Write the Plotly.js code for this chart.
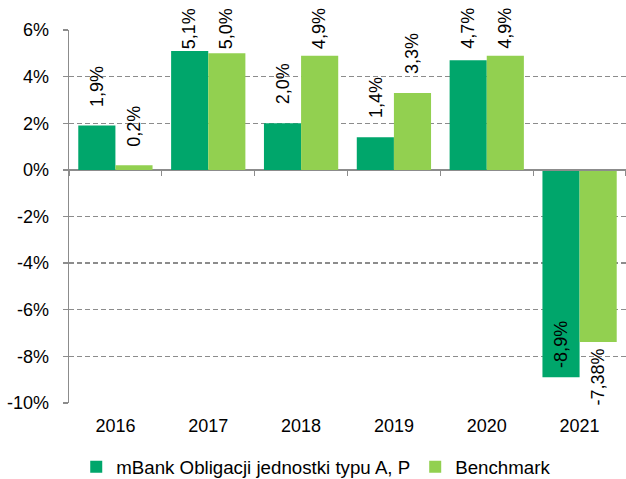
<!DOCTYPE html>
<html>
<head>
<meta charset="utf-8">
<script src="https://cdn.plot.ly/plotly-3.0.1.min.js"></script>
<style>html,body{margin:0;padding:0;overflow:hidden;background:#fff;}#chart{width:626px;height:479px;}</style>
</head>
<body>
<div id="chart"></div>
<script>
var years = ['2016', '2017', '2018', '2019', '2020', '2021'];
var fundName = 'mBank Obligacji jednostki typu A, P';
var benchName = 'Benchmark';
var fundValues = [1.9, 5.1, 2.0, 1.4, 4.7, -8.9];
var benchValues = [0.2, 5.0, 4.9, 3.3, 4.9, -7.38];
var yTickVals = [-10, -8, -6, -4, -2, 0, 2, 4, 6];
var yTickText = yTickVals.map(function (v) { return String(v) + '%'; });

var darkGreen = '#00A66B';
var lightGreen = '#92D050';
var axisGray = '#8C8C8C';
var fontFam = '"Liberation Sans", Arial, sans-serif';

function fmt(v) {
  var s = (Math.round(v * 10) === v * 10) ? v.toFixed(1) : v.toFixed(2);
  return s.replace('.', ',') + '%';
}

var boundaryTicks = [];
for (var k = 0; k <= years.length; k++) boundaryTicks.push(k - 0.5);

var traces = [
  {type: 'bar', name: fundName, x: years, y: fundValues, marker: {color: darkGreen}, hoverinfo: 'skip'},
  {type: 'bar', name: benchName, x: years, y: benchValues, marker: {color: lightGreen}, hoverinfo: 'skip'},
  // empty helper trace so that the category-boundary axis at 0% is drawn
  {type: 'scatter', mode: 'markers', x: [], y: [], xaxis: 'x2', yaxis: 'y', showlegend: false, hoverinfo: 'skip'}
];

var annotations = [];
function addLabels(vals, off, negInside) {
  vals.forEach(function (v, i) {
    var a = {x: i + off, xref: 'x', yref: 'y', text: fmt(v), showarrow: false, textangle: -90,
      font: {family: fontFam, size: 18, color: '#000'}, xanchor: 'center'};
    if (v >= 0) {
      a.y = Math.min(v + 0.73, 5.1); a.yanchor = 'bottom';
    } else if (negInside) {
      a.y = v; a.yanchor = 'bottom'; a.yshift = 7;
    } else {
      a.y = v; a.yanchor = 'top'; a.yshift = -5;
    }
    annotations.push(a);
  });
}
addLabels(fundValues, -0.2, true);
addLabels(benchValues, 0.2, false);

var layout = {
  width: 626, height: 479,
  margin: {l: 69, r: 0, t: 30, b: 76, autoexpand: false},
  paper_bgcolor: '#fff', plot_bgcolor: '#fff',
  barmode: 'group', bargap: 0.2, bargroupgap: 0,
  font: {family: fontFam, size: 18, color: '#000'},
  showlegend: true,
  legend: {orientation: 'h', x: 0.013, xanchor: 'left', yref: 'container', y: 0.025, yanchor: 'middle',
    font: {family: fontFam, size: 18.7, color: '#000'}, traceorder: 'normal'},
  xaxis: {type: 'category', showline: false, ticks: '', showgrid: false, zeroline: false,
    ticklabelstandoff: 10, tickfont: {size: 18, color: '#000'}, fixedrange: true, automargin: false},
  xaxis2: {overlaying: 'x', anchor: 'free', position: 0.625, range: [-0.5, years.length - 0.5],
    autorange: false, fixedrange: true,
    tickmode: 'array', tickvals: boundaryTicks, showticklabels: false, ticks: 'outside', ticklen: 5, tickwidth: 1.3,
    tickcolor: axisGray, showline: true, linecolor: axisGray, linewidth: 1.3, showgrid: false, zeroline: false},
  yaxis: {range: [-10, 6], tickmode: 'array', tickvals: yTickVals, ticktext: yTickText, showgrid: true, gridcolor: axisGray,
    gridwidth: 1.3, griddash: '5px,3px', zeroline: true, zerolinecolor: axisGray, zerolinewidth: 1.3,
    showline: true, linecolor: axisGray, linewidth: 1.3, ticks: 'outside', ticklen: 5, tickcolor: axisGray,
    tickwidth: 1.3, ticklabelstandoff: 10, tickfont: {size: 18, color: '#000'}, fixedrange: true, automargin: false},
  annotations: annotations
};

Plotly.newPlot('chart', traces, layout, {displayModeBar: false, staticPlot: true});
</script>
</body>
</html>
